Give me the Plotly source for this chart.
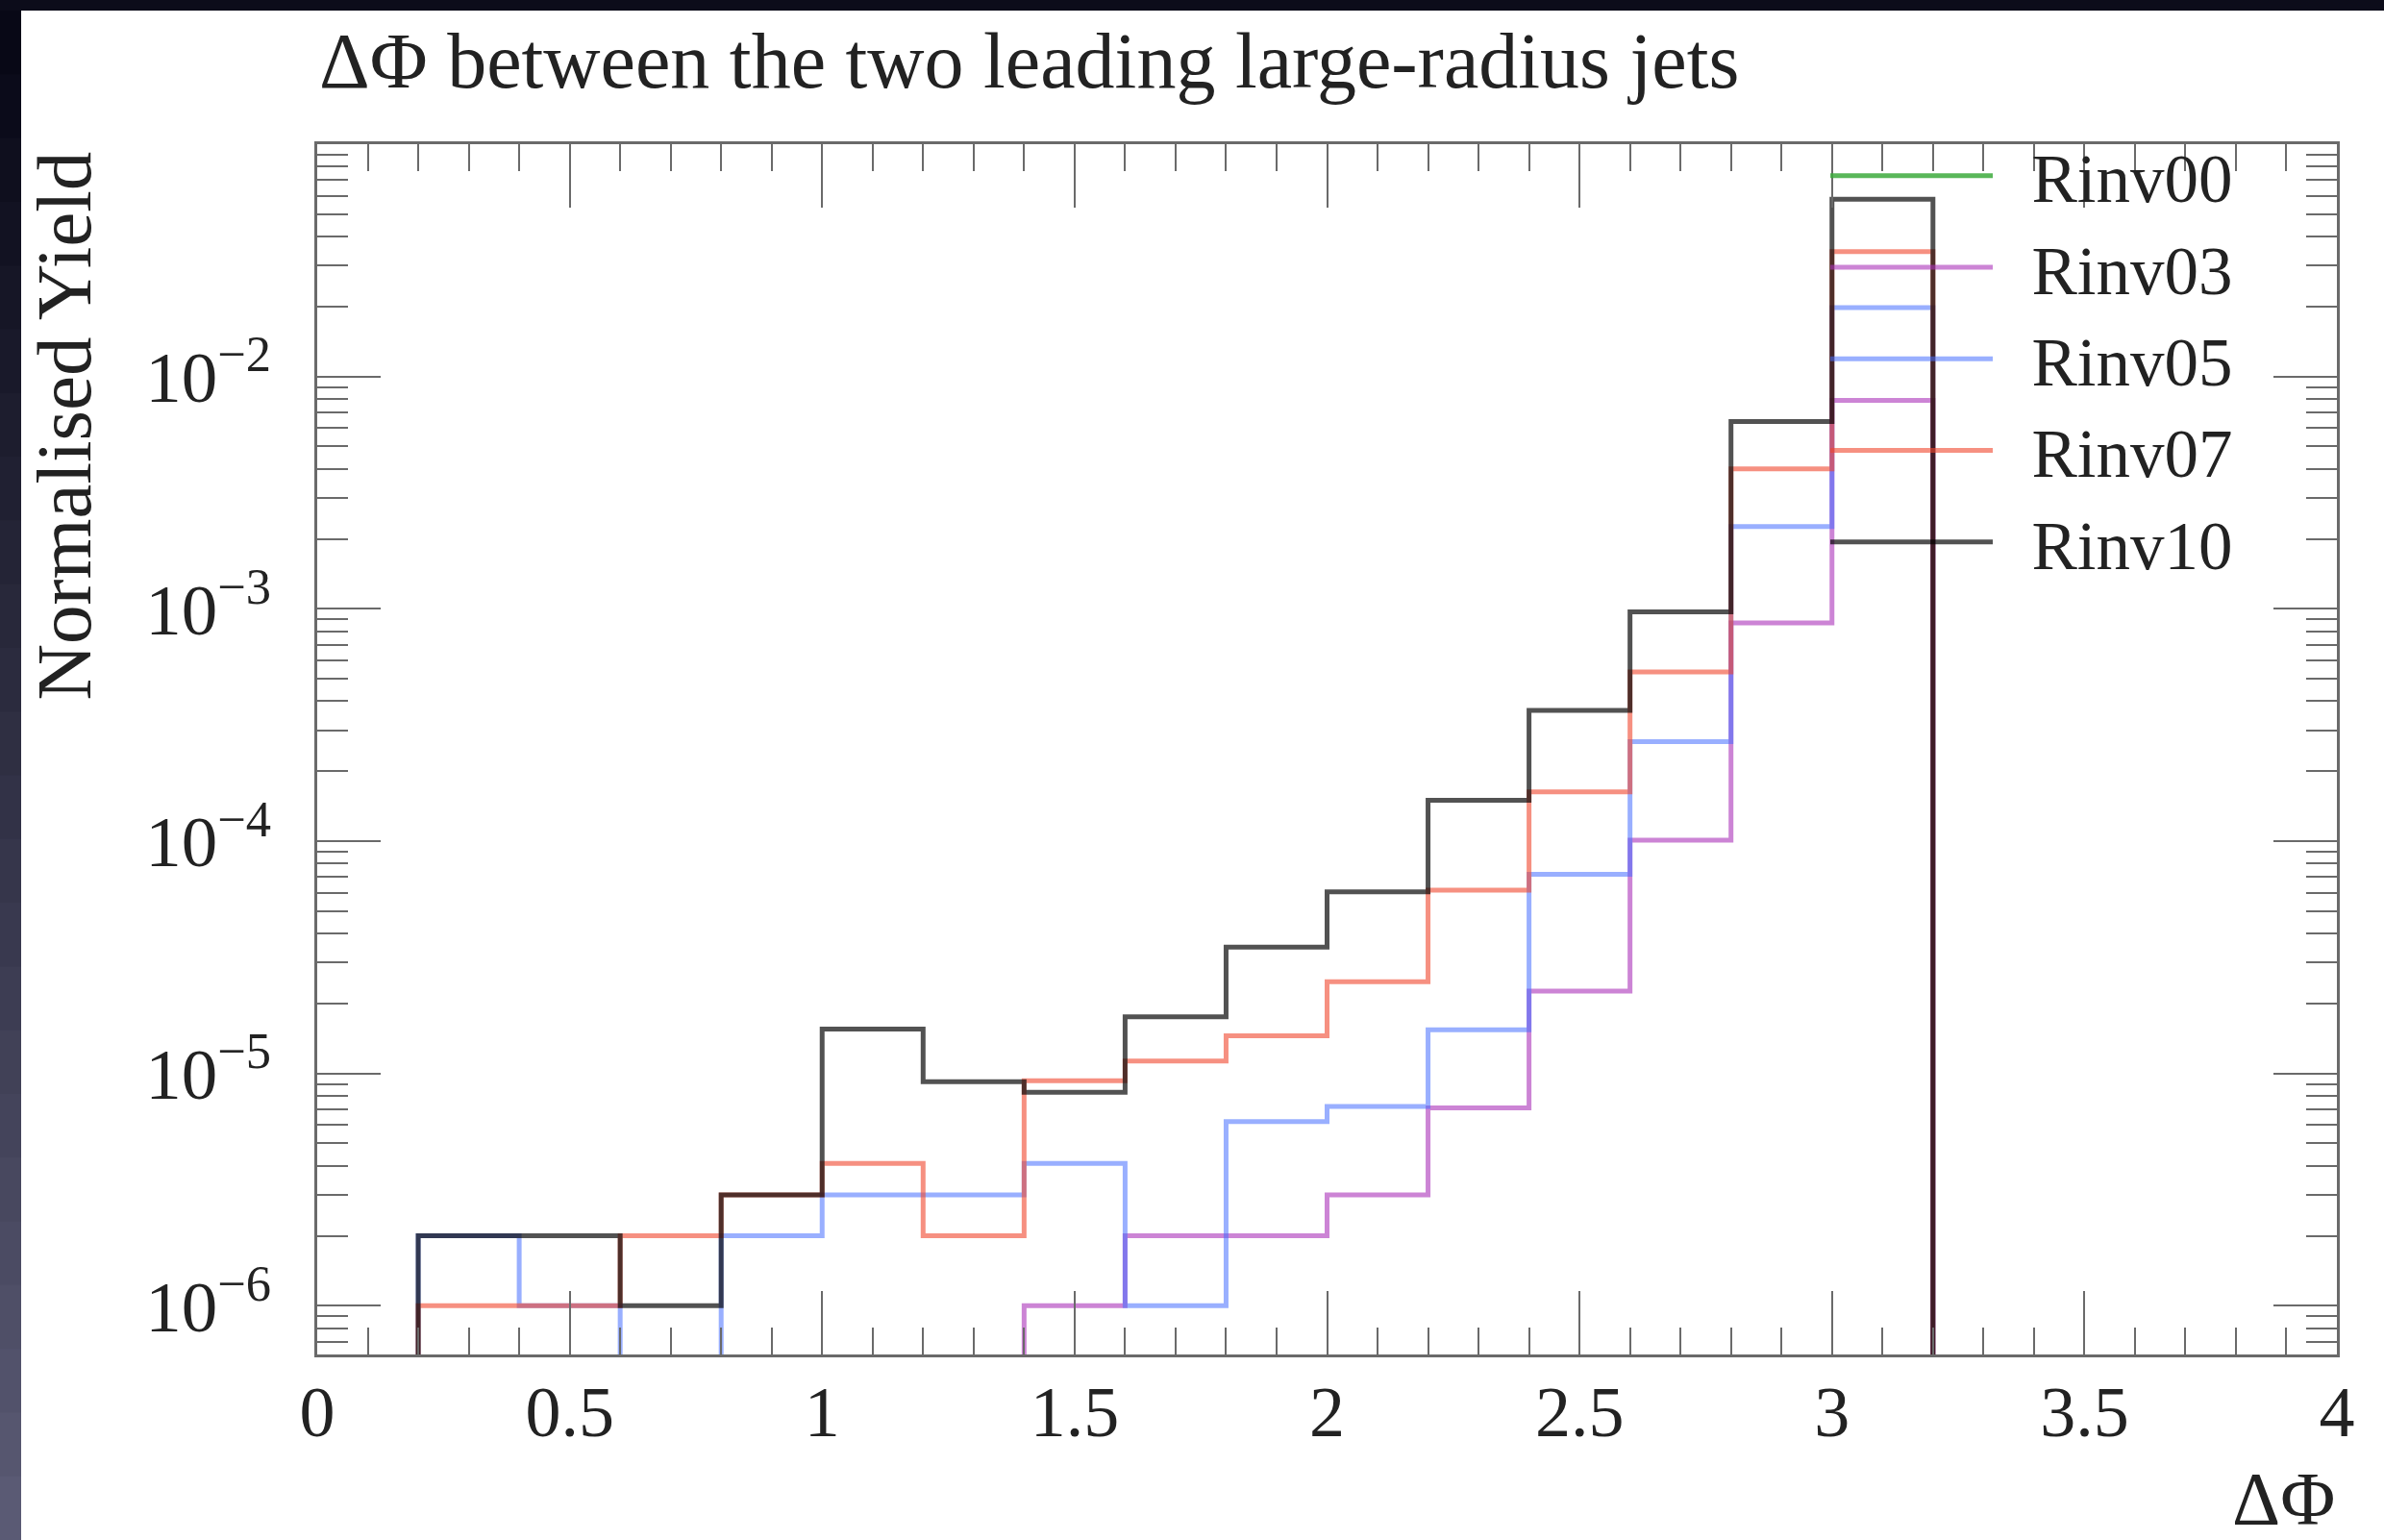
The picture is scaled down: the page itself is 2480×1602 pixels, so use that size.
import plotly.graph_objects as go

# ---------------- data ----------------
bin_edges = [0.0, 0.2, 0.4, 0.6, 0.8, 1.0, 1.2, 1.4, 1.6, 1.8, 2.0,
             2.2, 2.4, 2.6, 2.8, 3.0, 3.2]

rinv00 = [0, 0, 0, 0, 0, 0, 0, 0, 0, 0, 0, 0, 0, 0, 0, 0]
rinv03 = [0, 0, 0, 0, 0, 0, 0, 1.0e-6, 2.0e-6, 2.0e-6, 3.0e-6, 7.1e-6,
          2.26e-5, 1.01e-4, 8.7e-4, 7.9e-3]
rinv05 = [0, 2.0e-6, 1.0e-6, 0, 2.0e-6, 3.0e-6, 3.0e-6, 4.1e-6, 1.0e-6,
          6.2e-6, 7.2e-6, 1.54e-5, 7.2e-5, 2.68e-4, 2.26e-3, 1.98e-2]
rinv07 = [0, 1.0e-6, 1.0e-6, 2.0e-6, 3.0e-6, 4.1e-6, 2.0e-6, 9.3e-6, 1.13e-5,
          1.45e-5, 2.48e-5, 6.15e-5, 1.63e-4, 5.35e-4, 4.0e-3, 3.45e-2]
rinv10 = [0, 2.0e-6, 2.0e-6, 1.0e-6, 3.0e-6, 1.55e-5, 9.2e-6, 8.3e-6, 1.75e-5,
          3.5e-5, 6.05e-5, 1.5e-4, 3.65e-4, 9.7e-4, 6.4e-3, 5.8e-2]

series_names = ["Rinv00", "Rinv03", "Rinv05", "Rinv07", "Rinv10"]
series_vals = [rinv00, rinv03, rinv05, rinv07, rinv10]
series_colors = ["rgba(60,170,60,0.85)", "rgba(170,50,185,0.6)",
                 "rgba(70,110,255,0.55)", "rgba(240,70,45,0.6)",
                 "rgba(0,0,0,0.68)"]

x_tickvals = [0, 0.5, 1, 1.5, 2, 2.5, 3, 3.5, 4]
x_ticktext = ["0", "0.5", "1", "1.5", "2", "2.5", "3", "3.5", "4"]
y_tickvals = [1e-6, 1e-5, 1e-4, 1e-3, 1e-2]
y_ticktext = ["10<sup>\u22126</sup>", "10<sup>\u22125</sup>", "10<sup>\u22124</sup>",
              "10<sup>\u22123</sup>", "10<sup>\u22122</sup>"]

# ---------------- geometry ----------------
W, H = 2480, 1602
ML, MR, MT, MB = 330, 49, 150, 193
PW, PH = W - ML - MR, H - MT - MB
FLOOR = 1e-9  # empty bins drawn below the frame so the step drops out


def px2x(px):
    return (px - ML) / PW


def px2y(py):
    return (H - MB - py) / PH


FONT = "Liberation Serif"
TXT = "#222222"
AX = "#6a6a6a"
GAP = "\u00a0\u00a0"  # space between legend line sample and its label

fig = go.Figure()
for name, vals, col in zip(series_names, series_vals, series_colors):
    y = [v if v > 0 else FLOOR for v in vals] + [FLOOR]
    fig.add_trace(go.Scatter(
        x=bin_edges, y=y, mode="lines", name=GAP + name,
        line=dict(color=col, width=5, shape="hv"),
        hoverinfo="skip",
    ))

# background: dark slide frame + white page
shapes = [dict(type="rect", xref="paper", yref="paper", layer="below",
               x0=px2x(22), x1=px2x(W + 5), y0=px2y(H + 5), y1=px2y(11),
               fillcolor="white", line=dict(width=0))]
nb = 24
for i in range(nb):
    t = i / (nb - 1)
    c = (int(8 + 82 * t), int(8 + 82 * t), int(22 + 94 * t))
    shapes.append(dict(type="rect", xref="paper", yref="paper", layer="below",
                       x0=px2x(-5), x1=px2x(22),
                       y0=px2y(11 + (i + 1) * (H - 11) / nb + 1),
                       y1=px2y(11 + i * (H - 11) / nb),
                       fillcolor="rgb(%d,%d,%d)" % c, line=dict(width=0)))

x_minor = [round(0.1 * k, 1) for k in range(41) if k % 5 != 0]
y_minor = [m * 10.0 ** e for e in range(-7, -1) for m in range(2, 10)]

fig.update_layout(
    width=W, height=H,
    margin=dict(l=ML, r=MR, t=MT, b=MB, pad=0),
    paper_bgcolor="#0c0c1a", plot_bgcolor="white",
    shapes=shapes,
    showlegend=True,
    legend=dict(x=px2x(1899), xanchor="left", y=1.0 + 20 / PH, yanchor="top",
                bgcolor="rgba(0,0,0,0)", itemwidth=169,
                font=dict(family=FONT, size=71, color=TXT)),
    title=dict(text="\u0394\u03a6 between the two leading large-radius jets",
               x=px2x(332), xref="paper", xanchor="left",
               y=1 - 62 / H, yref="container", yanchor="middle",
               font=dict(family=FONT, size=82, color=TXT)),
    xaxis=dict(range=[0, 4], tickmode="array", tickvals=x_tickvals, ticktext=x_ticktext,
               ticks="inside", ticklen=66, tickwidth=2, tickcolor=AX,
               showline=True, linecolor=AX, linewidth=3, mirror="ticks",
               showgrid=False, zeroline=False,
               ticklabelstandoff=-7,
               tickfont=dict(family=FONT, size=74, color=TXT),
               minor=dict(tickmode="array", tickvals=x_minor, ticks="inside",
                          ticklen=28, tickwidth=2, tickcolor=AX, showgrid=False)),
    yaxis=dict(type="log", range=[-6.21, -1.0], tickmode="array",
               tickvals=y_tickvals, ticktext=y_ticktext,
               ticks="inside", ticklen=66, tickwidth=2, tickcolor=AX,
               showline=True, linecolor=AX, linewidth=3, mirror="ticks",
               showgrid=False, zeroline=False,
               ticklabelstandoff=30,
               tickfont=dict(family=FONT, size=75, color=TXT),
               minor=dict(tickmode="array", tickvals=y_minor, ticks="inside",
                          ticklen=32, tickwidth=2, tickcolor=AX, showgrid=False)),
    annotations=[
        dict(text="\u0394\u03a6", xref="paper", yref="paper", x=1.0, xanchor="right",
             y=px2y(1558), yanchor="middle", showarrow=False,
             font=dict(family=FONT, size=78, color=TXT)),
        dict(text="Normalised Yield", xref="paper", yref="paper", x=px2x(66),
             xanchor="center", y=px2y(156), yanchor="top", textangle=-90,
             showarrow=False, font=dict(family=FONT, size=81, color=TXT)),
    ],
)

fig.write_html("out.html")
